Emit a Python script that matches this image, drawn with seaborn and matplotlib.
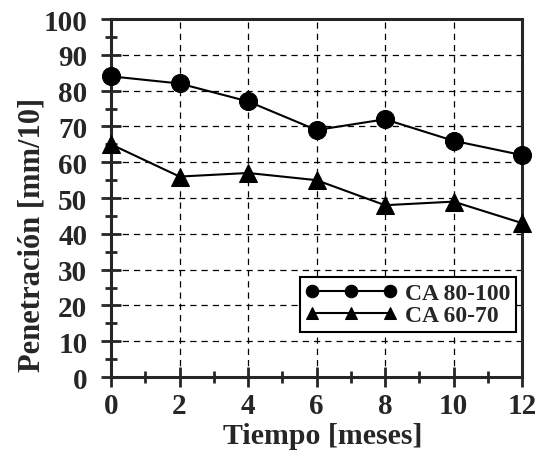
import matplotlib
matplotlib.use("Agg")
import matplotlib.pyplot as plt
from matplotlib.ticker import MultipleLocator
import seaborn as sns
import pandas as pd

meses = [0, 2, 4, 6, 8, 10, 12]
ca_80_100 = [84, 82, 77, 69, 72, 66, 62]
ca_60_70 = [65, 56, 57, 55, 48, 49, 43]

sns.set_style("ticks")
plt.rcParams['font.family'] = ['Liberation Serif', 'DejaVu Serif']
plt.rcParams['font.weight'] = 'bold'

df = pd.DataFrame({
    'Tiempo': meses * 2,
    'Pen': ca_80_100 + ca_60_70,
    'Serie': ['CA 80-100'] * len(meses) + ['CA 60-70'] * len(meses),
})

fig = plt.figure(figsize=(5.4, 4.56), dpi=100)
ax = fig.add_axes([0.2056, 0.171, 0.7611, 0.785])

sns.lineplot(data=df, x='Tiempo', y='Pen', hue='Serie', style='Serie',
             markers={'CA 80-100': 'o', 'CA 60-70': '^'}, dashes=False,
             palette={'CA 80-100': 'black', 'CA 60-70': 'black'},
             markersize=13, linewidth=1.5, markeredgecolor='black',
             ax=ax, clip_on=False, zorder=3)

ax.set_xlim(0, 12)
ax.set_ylim(0, 100)
ax.xaxis.set_major_locator(MultipleLocator(2))
ax.xaxis.set_minor_locator(MultipleLocator(1))
ax.yaxis.set_major_locator(MultipleLocator(10))
ax.yaxis.set_minor_locator(MultipleLocator(5))
ax.grid(True, which='major', color='black', linestyle=(0, (5, 4)), linewidth=0.9)

for s in ax.spines.values():
    s.set_linewidth(2.2)
    s.set_visible(True)

ax.tick_params(which='major', direction='inout', length=14, width=2,
               labelsize=21)
ax.tick_params(which='minor', direction='inout', length=8, width=2)
ax.tick_params(axis='x', which='major', pad=4)
ax.tick_params(axis='y', which='major', pad=10)
ax.tick_params(axis='both', which='both', top=False, right=False)
for lbl in ax.get_xticklabels() + ax.get_yticklabels():
    lbl.set_fontweight('bold')

ax.set_xlabel('Tiempo [meses]', fontsize=21.5, fontweight='bold')
ax.set_ylabel('Penetración [mm/10]', fontsize=22, fontweight='bold')
ax.xaxis.set_label_coords(0.515, -0.125, transform=ax.transAxes)
ax.yaxis.set_label_coords(-0.158, 0.40, transform=ax.transAxes)

leg = ax.legend(loc='lower right', bbox_to_anchor=(0.985, 0.126), numpoints=3,
                frameon=True, fancybox=False, edgecolor='black', borderaxespad=0,
                prop={'weight': 'bold', 'size': 17}, handlelength=3.9,
                handletextpad=0.3, borderpad=0.25, labelspacing=0.0)
leg.get_frame().set_linewidth(1.5)
leg.get_frame().set_alpha(1)
for h in leg.legend_handles:
    h.set_markersize(9)
    h.set_linewidth(1.5)

fig.savefig('out.png', dpi=100)
